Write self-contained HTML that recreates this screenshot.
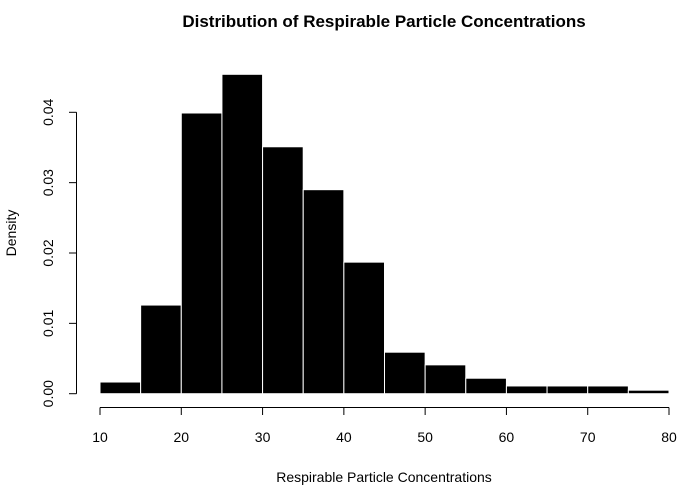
<!DOCTYPE html>
<html><head><meta charset="utf-8"><style>
body{margin:0;background:#fff;}
svg{display:block;font-family:"Liberation Sans",Arial,sans-serif;}
</style></head><body>
<svg id="chart" width="695" height="490">
<text x="384" y="27" text-anchor="middle" font-size="17" font-weight="bold">Distribution of Respirable Particle Concentrations</text>
<text x="384" y="482" text-anchor="middle" font-size="14">Respirable Particle Concentrations</text>
<text transform="translate(16,233) rotate(-90)" text-anchor="middle" font-size="14">Density</text>
<g id="bars"></g><g id="xaxis"></g><g id="yaxis"></g>
</svg>
<script>
const breaks = [10,15,20,25,30,35,40,45,50,55,60,65,70,75,80];
const densities = [0.00166,0.0126,0.0399,0.0454,0.0351,0.0290,0.0187,0.0059,0.0041,0.0022,0.0011,0.0011,0.0011,0.0005];
const xTicks = [10,20,30,40,50,60,70,80];
const yTicks = [0,0.01,0.02,0.03,0.04];
const yTickLabels = ["0.00","0.01","0.02","0.03","0.04"];
const NS="http://www.w3.org/2000/svg";
function xs(v){return 100+(v-10)*(569/70);}
function ys(v){return 393.7-v*7035;}
const bars=document.getElementById('bars');
densities.forEach((d,i)=>{
  const r=document.createElementNS(NS,'rect');
  
  
  r.setAttribute('x',xs(breaks[i]));r.setAttribute('width',xs(breaks[i+1])-xs(breaks[i]));
  r.setAttribute('y',ys(d));r.setAttribute('height',ys(0)-ys(d));
  r.setAttribute('fill','#000');r.setAttribute('stroke','#fff');r.setAttribute('stroke-width','1');
  bars.appendChild(r);
});
const xa=document.getElementById('xaxis');
let l=document.createElementNS(NS,'line');


l.setAttribute('x1',xs(10));l.setAttribute('x2',xs(80));l.setAttribute('y1',407.5);l.setAttribute('y2',407.5);l.setAttribute('stroke','#000');
xa.appendChild(l);
xTicks.forEach(t=>{
  const tk=document.createElementNS(NS,'line');
  
  
  tk.setAttribute('x1',xs(t));tk.setAttribute('x2',xs(t));tk.setAttribute('y1',407.5);tk.setAttribute('y2',415);tk.setAttribute('stroke','#000');
  xa.appendChild(tk);
  const tx=document.createElementNS(NS,'text');
  
  
  tx.setAttribute('x',xs(t));tx.setAttribute('y',442);tx.setAttribute('text-anchor','middle');tx.setAttribute('font-size','14');
  tx.textContent=t;xa.appendChild(tx);
});
const ya=document.getElementById('yaxis');
l=document.createElementNS(NS,'line');


l.setAttribute('x1',76.5);l.setAttribute('x2',76.5);l.setAttribute('y1',ys(0));l.setAttribute('y2',ys(0.04));l.setAttribute('stroke','#000');
ya.appendChild(l);
yTicks.forEach((t,i)=>{
  const tk=document.createElementNS(NS,'line');
  
  
  tk.setAttribute('x1',69);tk.setAttribute('x2',76.5);tk.setAttribute('y1',ys(t));tk.setAttribute('y2',ys(t));tk.setAttribute('stroke','#000');
  ya.appendChild(tk);
  const tx=document.createElementNS(NS,'text');
  
  
  tx.setAttribute('transform','translate(53,'+ys(t)+') rotate(-90)');tx.setAttribute('text-anchor','middle');tx.setAttribute('font-size','14');
  tx.textContent=yTickLabels[i];ya.appendChild(tx);
});
</script>
</body></html>
